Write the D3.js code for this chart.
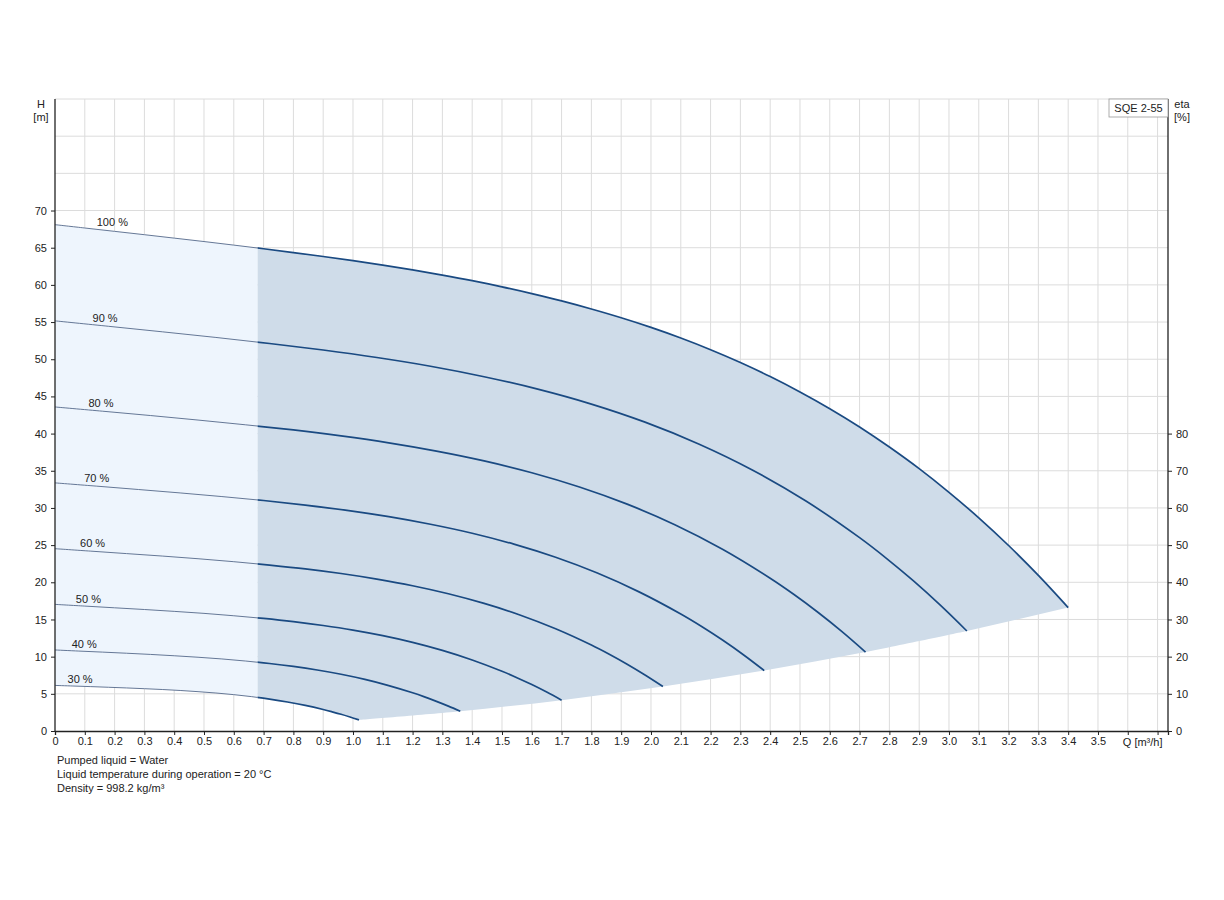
<!DOCTYPE html>
<html>
<head>
<meta charset="utf-8">
<script src="https://cdn.jsdelivr.net/npm/d3@7"></script>
<style>
  body { margin: 0; background: #fff; }
  svg text { font-family: "Liberation Sans", Arial, sans-serif; fill: #222; }
</style>
</head>
<body>
<div id="chart"></div>
<script>
// pump curves, [Q m3/h, H m]
const curve100 = [
  [0, 68.10], [0.1, 67.65], [0.2, 67.20], [0.3, 66.75], [0.4, 66.29], [0.5, 65.83], [0.6, 65.35],
  [0.7, 64.86], [0.8, 64.35], [0.9, 63.82], [1.0, 63.26], [1.1, 62.66], [1.2, 62.01], [1.3, 61.32],
  [1.4, 60.57], [1.5, 59.74], [1.6, 58.83], [1.7, 57.85], [1.8, 56.76], [1.9, 55.58], [2.0, 54.28],
  [2.1, 52.85], [2.2, 51.28], [2.3, 49.56], [2.4, 47.67], [2.5, 45.60], [2.6, 43.35], [2.7, 40.89],
  [2.8, 38.19], [2.9, 35.28], [3.0, 32.10], [3.1, 28.67], [3.2, 24.95], [3.3, 20.93], [3.4, 16.60]
];
const curve90 = [
  [0, 55.16], [0.18, 54.43], [0.36, 53.69], [0.54, 52.93], [0.72, 52.12], [0.9, 51.24], [1.08, 50.23],
  [1.26, 49.06], [1.44, 47.65], [1.62, 45.98], [1.8, 43.97], [1.98, 41.54], [2.16, 38.61], [2.34, 35.11],
  [2.52, 30.93], [2.7, 26.00], [2.79, 23.22], [2.88, 20.21], [2.97, 16.95], [3.06, 13.45]
];
const curve80 = [
  [0, 43.58], [0.16, 43.01], [0.32, 42.43], [0.48, 41.82], [0.64, 41.18], [0.8, 40.49], [0.96, 39.69],
  [1.12, 38.76], [1.28, 37.65], [1.44, 36.33], [1.6, 34.74], [1.76, 32.82], [1.92, 30.51], [2.08, 27.74],
  [2.24, 24.44], [2.4, 20.54], [2.48, 18.35], [2.56, 15.97], [2.64, 13.40], [2.72, 10.62]
];
const curve70 = [
  [0, 33.37], [0.14, 32.93], [0.28, 32.48], [0.42, 32.02], [0.56, 31.53], [0.7, 31.00], [0.84, 30.38],
  [0.98, 29.68], [1.12, 28.83], [1.26, 27.81], [1.4, 26.60], [1.54, 25.13], [1.68, 23.36], [1.82, 21.24],
  [1.96, 18.71], [2.1, 15.73], [2.17, 14.05], [2.24, 12.23], [2.31, 10.26], [2.38, 8.13]
];
const curve60 = [
  [0, 24.52], [0.12, 24.19], [0.24, 23.86], [0.36, 23.53], [0.48, 23.17], [0.6, 22.77], [0.72, 22.32],
  [0.84, 21.81], [0.96, 21.18], [1.08, 20.43], [1.2, 19.54], [1.32, 18.46], [1.44, 17.16], [1.56, 15.61],
  [1.68, 13.75], [1.8, 11.56], [1.86, 10.32], [1.92, 8.98], [1.98, 7.53], [2.04, 5.98]
];
const curve50 = [
  [0, 17.03], [0.1, 16.80], [0.2, 16.57], [0.3, 16.34], [0.4, 16.09], [0.5, 15.82], [0.6, 15.50],
  [0.7, 15.14], [0.8, 14.71], [0.9, 14.19], [1.0, 13.57], [1.1, 12.82], [1.2, 11.92], [1.3, 10.84],
  [1.4, 9.55], [1.5, 8.03], [1.55, 7.17], [1.6, 6.24], [1.65, 5.23], [1.7, 4.15]
];
const curve40 = [
  [0, 10.90], [0.08, 10.75], [0.16, 10.61], [0.24, 10.46], [0.32, 10.30], [0.4, 10.12], [0.48, 9.92],
  [0.56, 9.69], [0.64, 9.41], [0.72, 9.08], [0.8, 8.68], [0.88, 8.20], [0.96, 7.63], [1.04, 6.94],
  [1.12, 6.11], [1.2, 5.14], [1.24, 4.59], [1.28, 3.99], [1.32, 3.35], [1.36, 2.66]
];
const curve30 = [
  [0, 6.13], [0.06, 6.05], [0.12, 5.97], [0.18, 5.88], [0.24, 5.79], [0.3, 5.69], [0.36, 5.58],
  [0.42, 5.45], [0.48, 5.29], [0.54, 5.11], [0.6, 4.89], [0.66, 4.62], [0.72, 4.29], [0.78, 3.90],
  [0.84, 3.44], [0.9, 2.89], [0.93, 2.58], [0.96, 2.25], [0.99, 1.88], [1.02, 1.49]
];

const speeds = [100, 90, 80, 70, 60, 50, 40, 30];
const curves = [curve100, curve90, curve80, curve70, curve60, curve50, curve40, curve30];
const speedLabels = ["100 %", "90 %", "80 %", "70 %", "60 %", "50 %", "40 %", "30 %"];

const qMinOperating = 0.68;           // start of the recommended duty range
const qTicks = d3.range(0, 38).map(i => i / 10);
const qLabelTicks = d3.range(0, 36).map(i => i / 10);
const hTicks = d3.range(0, 75, 5);
const hGrid = d3.range(5, 90, 5);
const etaTicks = d3.range(0, 90, 10);
const notes = [
  "Pumped liquid = Water",
  "Liquid temperature during operation = 20 °C",
  "Density = 998.2 kg/m³"
];
const pumpName = "SQE 2-55";

const W = 1224, H = 900;
const margin = { top: 99, right: 56, bottom: 169, left: 55 };
const width = W - margin.left - margin.right;
const height = H - margin.top - margin.bottom;

const svg = d3.select("#chart").append("svg")
  .attr("width", W)
  .attr("height", H);

const g = svg.append("g")
  .attr("transform", `translate(${margin.left},${margin.top})`);

const x = d3.scaleLinear().domain([0, 3.735]).range([0, width]);
const y = d3.scaleLinear().domain([0, 85]).range([height, 0]);
const yEta = d3.scaleLinear().domain([0, 170]).range([height, 0]);

// grid
g.append("g").selectAll("line")
  .data(qTicks.filter(d => d > 0))
  .join("line")
  .attr("x1", d => x(d)).attr("x2", d => x(d))
  .attr("y1", 0).attr("y2", height)
  .attr("stroke", "#dcdcdc");

g.append("g").selectAll("line")
  .data(hGrid)
  .join("line")
  .attr("x1", 0).attr("x2", width)
  .attr("y1", d => y(d)).attr("y2", d => y(d))
  .attr("stroke", "#dcdcdc");

// clip paths: left (outside duty range) and right
const defs = svg.append("defs");
defs.append("clipPath").attr("id", "clipLeft")
  .append("rect")
  .attr("x", 0).attr("y", 0)
  .attr("width", x(qMinOperating)).attr("height", height);
defs.append("clipPath").attr("id", "clipRight")
  .append("rect")
  .attr("x", x(qMinOperating)).attr("y", 0)
  .attr("width", width - x(qMinOperating)).attr("height", height);

const line = d3.line()
  .x(d => x(d[0]))
  .y(d => y(d[1]))
  .curve(d3.curveCatmullRom);

// envelope: 100% curve, end points of each curve, then 30% curve back
const endPoints = curves.map(c => c[c.length - 1]);
const envTop = line(curve100);
const envBottom = line(endPoints.slice(1)).replace(/^M/, "L");
const envBack = line(curve30.slice().reverse()).replace(/^M/, "L");
const envelope = envTop + envBottom + envBack + "Z";

g.append("path")
  .attr("d", envelope)
  .attr("fill", "#eef5fd")
  .attr("clip-path", "url(#clipLeft)");

g.append("path")
  .attr("d", envelope)
  .attr("fill", "#cfdce9")
  .attr("clip-path", "url(#clipRight)");

// curves: thin outside the duty range, thick inside
g.append("g").selectAll("path")
  .data(curves)
  .join("path")
  .attr("d", line)
  .attr("fill", "none")
  .attr("stroke", "#55698a")
  .attr("stroke-width", 0.9)
  .attr("clip-path", "url(#clipLeft)");

g.append("g").selectAll("path")
  .data(curves)
  .join("path")
  .attr("d", line)
  .attr("fill", "none")
  .attr("stroke", "#1a4a82")
  .attr("stroke-width", 1.7)
  .attr("clip-path", "url(#clipRight)");

// speed labels near the start of each curve
function headAt(c, q) {
  const i = d3.bisector(d => d[0]).left(c, q);
  const a = c[Math.max(0, i - 1)], b = c[i];
  const t = (q - a[0]) / (b[0] - a[0] || 1);
  return a[1] + t * (b[1] - a[1]);
}

g.append("g").selectAll("text")
  .data(curves)
  .join("text")
  .attr("x", (c, i) => x(0.14 * speeds[i] / 100))
  .attr("y", (c, i) => y(headAt(c, 0.14 * speeds[i] / 100)) - 3)
  .attr("font-size", 11)
  .text((c, i) => speedLabels[i]);

// axes
const xAxis = d3.axisBottom(x)
  .tickValues(qTicks)
  .tickSize(4)
  .tickFormat(d => qLabelTicks.some(t => Math.abs(t - d) < 1e-9) ? (d === 0 ? "0" : d3.format(".1f")(d)) : "");

const gx = g.append("g")
  .attr("transform", `translate(0,${height})`)
  .call(xAxis);
gx.select(".domain").attr("stroke", "#222").attr("stroke-width", 1.3);
gx.selectAll(".tick line").attr("stroke", "#222");
gx.selectAll(".tick text").attr("font-size", 11).attr("dy", "0.6em").attr("fill", "#222");

const yAxis = d3.axisLeft(y).tickValues(hTicks).tickSize(4);
const gy = g.append("g").call(yAxis);
gy.select(".domain").attr("d", `M-0,${height}V0`).attr("stroke", "#222").attr("stroke-width", 1.3);
gy.selectAll(".tick line").attr("stroke", "#222");
gy.selectAll(".tick text").attr("font-size", 11).attr("fill", "#222").attr("x", -8);

const etaAxis = d3.axisRight(yEta).tickValues(etaTicks).tickSize(4);
const ge = g.append("g")
  .attr("transform", `translate(${width},0)`)
  .call(etaAxis);
ge.select(".domain").attr("d", `M0,${height}V0`).attr("stroke", "#222").attr("stroke-width", 1.3);
ge.selectAll(".tick line").attr("stroke", "#222");
ge.selectAll(".tick text").attr("font-size", 11).attr("fill", "#222").attr("x", 8);

// axis titles
g.append("text").attr("x", -14).attr("y", 9).attr("text-anchor", "middle")
  .attr("font-size", 11).text("H");
g.append("text").attr("x", -14).attr("y", 22).attr("text-anchor", "middle")
  .attr("font-size", 11).text("[m]");
g.append("text").attr("x", width + 14).attr("y", 9).attr("text-anchor", "middle")
  .attr("font-size", 11).text("eta");
g.append("text").attr("x", width + 14).attr("y", 22).attr("text-anchor", "middle")
  .attr("font-size", 11).text("[%]");
g.append("text").attr("x", x(3.6) - 5).attr("y", height + 15)
  .attr("font-size", 11).text("Q [m³/h]");

// pump name box
const box = g.append("g").attr("transform", `translate(${width},0)`);
box.append("rect")
  .attr("x", -59).attr("y", 0).attr("width", 59).attr("height", 18)
  .attr("fill", "#fff").attr("stroke", "#999").attr("stroke-width", 0.8);
box.append("text")
  .attr("x", -29.5).attr("y", 13).attr("text-anchor", "middle")
  .attr("font-size", 11).text(pumpName);

// notes
g.append("g").selectAll("text")
  .data(notes)
  .join("text")
  .attr("x", 2)
  .attr("y", (d, i) => height + 33 + i * 14)
  .attr("font-size", 11)
  .text(d => d);
</script>
</body>
</html>
